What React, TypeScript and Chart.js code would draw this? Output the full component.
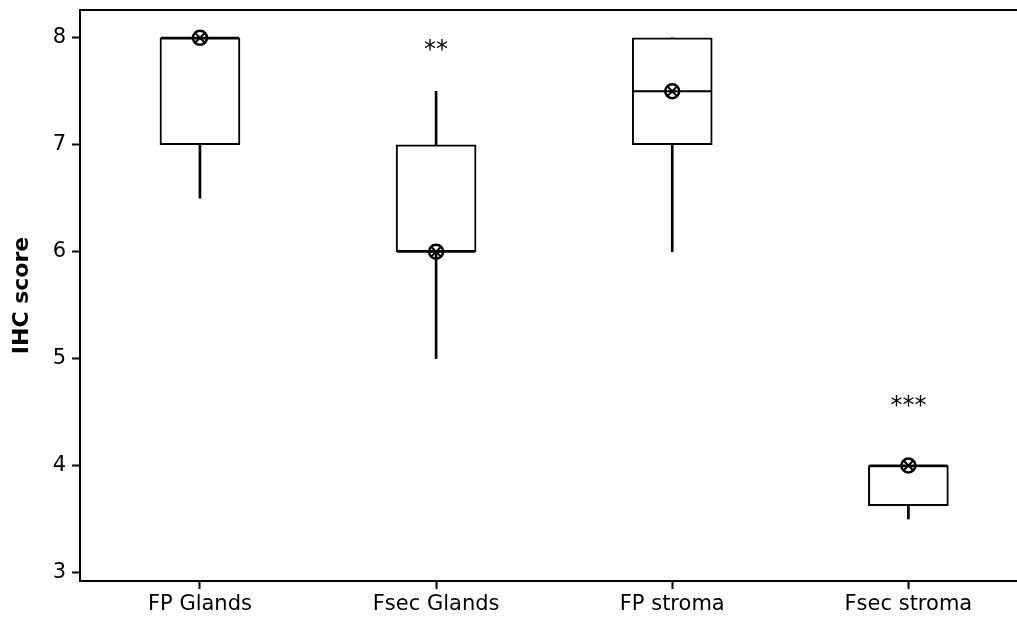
import React, { useEffect, useRef } from "react";
import { Chart, registerables } from "chart.js";

Chart.register(...registerables);

const categories = ["FP Glands", "Fsec Glands", "FP stroma", "Fsec stroma"];
const whiskerLow = [6.5, 5, 6, 3.5];
const q1 = [7, 6, 7, 3.625];
const median = [8, 6, 7.5, 4];
const q3 = [8, 7, 8, 4];
const whiskerHigh = [8, 7.5, 8, 4];
const markerValues = [8, 6, 7.5, 4];
const sigLabels = ["", "**", "", "***"];
const sigValues = [null, 7.93, null, 4.6];
const yTicks = [3, 4, 5, 6, 7, 8];

const FONT = "'DejaVu Sans', Verdana, sans-serif";

const sigPlugin = {
  id: "sigPlugin",
  afterDatasetsDraw(chart: any) {
    const { ctx, scales } = chart;
    ctx.save();
    ctx.fillStyle = "#000";
    ctx.font = `24px ${FONT}`;
    ctx.textAlign = "center";
    ctx.textBaseline = "middle";
    sigLabels.forEach((s, i) => {
      const v = sigValues[i];
      if (!s || v == null) return;
      ctx.fillText(s, scales.x.getPixelForValue(i), scales.y.getPixelForValue(v) + 5);
    });
    // top frame line
    const ca = chart.chartArea;
    ctx.strokeStyle = "#000";
    ctx.lineWidth = 2;
    ctx.beginPath();
    ctx.moveTo(ca.left - 1, ca.top);
    ctx.lineTo(chart.width, ca.top);
    ctx.stroke();
    ctx.restore();
  },
};

export default function App() {
  const ref = useRef<HTMLCanvasElement>(null);
  useEffect(() => {
    if (!ref.current) return;
    const idx = categories.map((_, i) => i);
    const chart = new Chart(ref.current, {
      type: "bar",
      data: {
        datasets: [
          {
            type: "scatter",
            data: idx.map((i) => ({ x: i, y: markerValues[i] })),
            pointStyle: "crossRot",
            pointRadius: 7,
            borderColor: "#000",
            borderWidth: 2,
            order: 0,
          } as any,
          {
            type: "scatter",
            data: idx.map((i) => ({ x: i, y: markerValues[i] })),
            pointStyle: "circle",
            pointRadius: 7,
            backgroundColor: "rgba(255,255,255,0)",
            borderColor: "#000",
            borderWidth: 2.5,
            order: 1,
          } as any,
          {
            type: "scatter",
            data: idx.map((i) => ({ x: i, y: median[i] })),
            pointStyle: "line",
            pointRadius: 39,
            borderColor: "#000",
            borderWidth: 2,
            order: 2,
          } as any,
          {
            type: "bar",
            data: idx.map((i) => ({ x: i, y: [q1[i], q3[i]] })),
            backgroundColor: "#fff",
            borderColor: "#000",
            borderWidth: 2,
            borderSkipped: false,
            barThickness: 80,
            grouped: false,
            order: 3,
          } as any,
          {
            type: "bar",
            data: idx.map((i) => ({ x: i, y: [whiskerLow[i], q1[i]] })),
            backgroundColor: "#000",
            borderWidth: 0,
            barThickness: 2,
            grouped: false,
            order: 4,
          } as any,
          {
            type: "bar",
            data: idx.map((i) => ({ x: i, y: [q3[i], whiskerHigh[i]] })),
            backgroundColor: "#000",
            borderWidth: 0,
            barThickness: 2,
            grouped: false,
            order: 5,
          } as any,
        ],
      },
      options: {
        animation: false,
        responsive: true,
        maintainAspectRatio: false,
        layout: { autoPadding: false, padding: { top: 10, right: 0, left: 0, bottom: 0 } },
        plugins: { legend: { display: false }, tooltip: { enabled: false } },
        scales: {
          x: {
            type: "linear",
            min: -0.508,
            max: 3.46,
            offset: false,
            afterBuildTicks: (s: any) => {
              s.ticks = idx.map((v) => ({ value: v }));
            },
            afterFit: (s: any) => {
              s.height = 40;
              s.paddingLeft = 0;
              s.paddingRight = 0;
            },
            ticks: {
              callback: (v: any) => categories[v] ?? "",
              color: "#000",
              font: { family: FONT, size: 21 },
              padding: 3,
              maxRotation: 0,
              autoSkip: false,
            },
            grid: {
              offset: false,
              drawOnChartArea: false,
              drawTicks: true,
              tickLength: 8,
              tickWidth: 2,
              tickColor: "#000",
            },
            border: { display: true, color: "#000", width: 2 },
          },
          y: {
            type: "linear",
            min: 2.92,
            max: 8.26,
            afterBuildTicks: (s: any) => {
              s.ticks = yTicks.map((v) => ({ value: v }));
            },
            afterFit: (s: any) => {
              s.width = 80;
              s.paddingTop = 0;
              s.paddingBottom = 0;
            },
            ticks: {
              color: "#000",
              font: { family: FONT, size: 21 },
              padding: 6,
            },
            grid: {
              drawOnChartArea: false,
              drawTicks: true,
              tickLength: 8,
              tickWidth: 2,
              tickColor: "#000",
            },
            border: { display: true, color: "#000", width: 2 },
            title: {
              display: true,
              text: "IHC score",
              color: "#000",
              font: { family: FONT, size: 22, weight: "bold" },
              padding: { top: 9, bottom: 0 },
            },
          },
        },
      } as any,
      plugins: [sigPlugin],
    });
    return () => chart.destroy();
  }, []);
  return (
    <div style={{ position: "fixed", left: 0, top: 0, width: 1017, height: 621, background: "#fff" }}>
      <canvas ref={ref} />
    </div>
  );
}
